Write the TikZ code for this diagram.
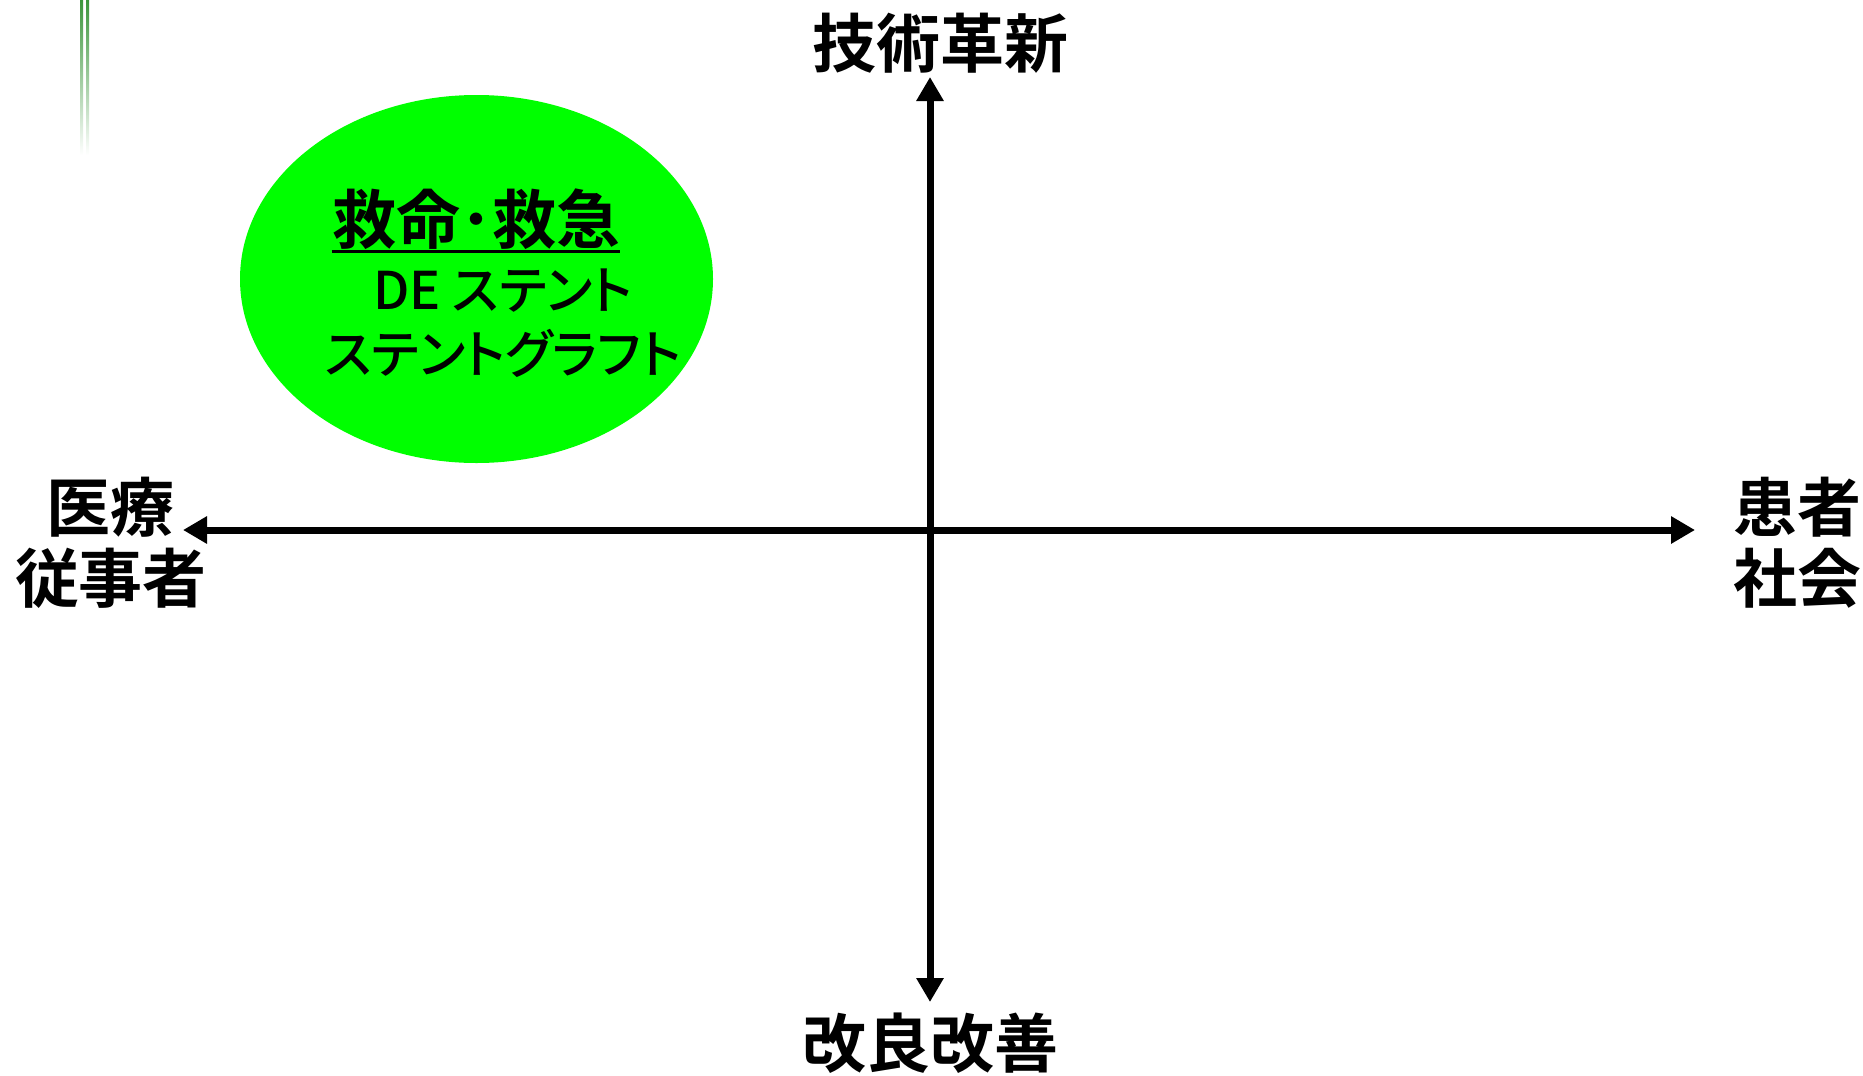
\documentclass[tikz,border=0pt]{standalone}
\usepackage{fontspec}
\usetikzlibrary{shapes.geometric,arrows.meta}
\newfontfamily\jp{Noto Sans CJK JP Medium}[RawFeature=+palt]
\newfontfamily\jpb{Noto Sans CJK JP Bold}
\definecolor{kyugreen}{RGB}{0,255,0}
\definecolor{bargreen}{RGB}{60,150,60}

\begin{document}
\begin{tikzpicture}[x=0.5pt, y=-0.5pt, >={Triangle[length=12pt,width=13pt]},
    axislabel/.style={font=\jpb\fontsize{32}{35.5}\selectfont, align=center, inner sep=0pt},
    bodytext/.style={font=\jp\fontsize{26}{28}\selectfont, inner sep=0pt}]
    \useasboundingbox (0,0) rectangle (1863,1076);

    % 左上の飾り線
    \shade[top color=bargreen, bottom color=white] (80,0) rectangle (83,155);
    \shade[top color=bargreen, bottom color=white] (86,0) rectangle (89,155);

    % 軸
    \coordinate (ytop) at (930,77);
    \coordinate (ybot) at (930,1002);
    \coordinate (xleft) at (183,530);
    \coordinate (xright) at (1695,530);
    \draw[<->, line width=3.5pt] (ybot) -- (ytop);
    \draw[<->, line width=3.5pt] (xleft) -- (xright);

    % 軸ラベル
    \node[axislabel] (gijutsu) at (940,43) {技術革新};
    \node[axislabel] (kairyo) at (930,1043) {改良改善};
    \node[axislabel] (iryo) at (111,543) {医療\\従事者};
    \node[axislabel] (kanja) at (1797,543) {患者\\社会};

    % 救命・救急の領域
    \node[ellipse, fill=kyugreen, inner sep=0pt,
          minimum width=236.5pt, minimum height=184pt] (kyumei) at (476.5,279) {};
    \node[axislabel] (kyutitle) at (476,219) {救命･救急};
    \draw[line width=1.5pt] ([yshift=-4pt]kyutitle.base west) -- ([yshift=-4pt]kyutitle.base east);
    \node[bodytext] (destent) at (503,291) {DE ステント};
    \node[bodytext] (graft) at (503,353) {ステントグラフト};
\end{tikzpicture}
\end{document}
